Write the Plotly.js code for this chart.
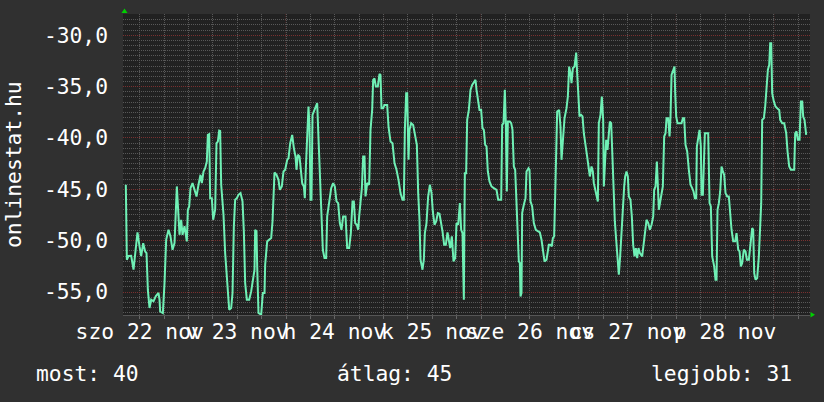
<!DOCTYPE html>
<html><head><meta charset="utf-8">
<script src="https://cdn.plot.ly/plotly-3.0.1.min.js"></script>
<style>html,body{margin:0;padding:0;background:#303030;}#chart{width:824px;height:402px;}</style>
</head><body><div id="chart"></div>
<script>
// time in hours relative to 23 nov 00:00
const hours1 = [-15.42,-15.17,-14.76,-14.10,-13.53,-13.12,-12.55,-12.05,-11.64,-11.15,-10.66,-10.33,-10.00,-9.59,-9.18,-8.61,-8.03,-7.38,-7.13,-6.97,-6.31,-5.90,-5.49,-4.92,-4.43,-3.93,-3.44,-2.87,-2.62,-2.21,-1.80,-1.47,-0.98,-0.41,-0.16,0.17,0.49,0.99,1.48,1.97,2.46,2.95,3.28,3.69,4.10,4.51,4.76,5.09,5.33,5.74,6.07,6.56,6.89,7.22,7.55,7.79,8.04,8.61,9.02,9.52,10.01,10.50,10.83,11.16,11.48,11.89,12.30,12.80,13.29,13.62,13.94,14.35,14.93,15.42,15.83,16.24,16.40,16.73,16.90,17.22,17.88,18.29,18.70,18.86,19.36,19.85,20.34,20.67,20.91,21.16,21.65,22.14,22.47,22.96,23.37,23.78,24.28,24.61,25.02];
const values1 = [-44.56,-51.86,-51.5,-51.47,-52.83,-51.5,-49.2,-50.56,-51.5,-50.24,-51.05,-51.21,-54.8,-56.56,-55.75,-55.91,-55.4,-55.1,-55.75,-56.9,-57.05,-54.13,-49.9,-48.94,-49.59,-50.89,-50.24,-44.72,-46.99,-49.43,-47.97,-49.43,-48.6,-50.07,-46.99,-46.67,-44.89,-44.4,-45.05,-45.7,-44.56,-43.59,-44.4,-43.27,-42.94,-42.29,-39.7,-39.63,-45.86,-45.86,-47.97,-46.99,-40.51,-40.35,-39.28,-39.31,-44.56,-47.48,-51.21,-54.13,-56.72,-56.56,-55.1,-48.6,-46.02,-45.86,-45.54,-45.37,-46.18,-49.1,-54.13,-55.75,-55.75,-54.94,-53.8,-52.83,-48.94,-49.1,-52.51,-57.05,-57.21,-55.1,-55.1,-52.34,-50.07,-49.91,-49.75,-48.13,-45.7,-43.36,-43.59,-44.08,-45.05,-44.72,-43.27,-43.1,-42.13,-41.97,-40.51];

const hours2 = [25.51,25.92,26.33,26.57,26.90,27.31,27.56,27.97,28.38,28.62,28.87,29.20,29.52,29.77,30.02,30.26,30.51,31.00,31.41,31.66,31.98,32.48,32.80,33.05,33.46,33.87,34.12,34.61,35.10,35.59,36.00,36.41,36.82,37.23,37.64,38.05,38.63,39.04,39.53,39.94,40.35,40.68,41.01,41.42,41.74,41.99,42.32,42.65,42.97,43.30,43.55,43.96,44.45,44.78,45.19,45.43,45.76,46.09,46.58,46.99,47.24,47.48,47.89,48.22,48.88,49.21,49.70,50.19,50.68,51.17,51.67,52.16,52.65,52.98,53.23,53.55,53.80,54.13,54.37,54.78,55.27,55.77,56.18,56.51,56.83,57.08,57.57,57.90,58.15,58.55,58.96,59.38,59.79,60.11,60.52,60.93,61.34,61.75,62.16,62.49,62.90,63.31,63.72,64.05,64.38,64.79,65.20,65.61,65.94,66.35,66.76,67.08,67.41];
const values2 = [-39.70,-40.99,-41.81,-43.10,-41.64,-41.81,-43.10,-44.40,-44.72,-45.86,-42.94,-39.37,-36.94,-38.89,-46.02,-46.02,-37.75,-37.27,-36.78,-36.62,-40.02,-44.56,-47.64,-50.89,-51.70,-51.70,-47.64,-46.35,-44.89,-44.40,-44.72,-46.18,-46.35,-48.29,-48.94,-47.64,-47.64,-50.72,-50.72,-49.26,-46.18,-46.18,-48.29,-48.45,-48.94,-47.64,-46.35,-44.89,-41.81,-41.81,-45.70,-44.40,-44.56,-39.21,-37.27,-34.35,-34.19,-34.99,-34.99,-33.77,-33.86,-37.10,-37.10,-36.78,-36.78,-38.89,-40.35,-40.51,-42.45,-43.10,-44.08,-45.37,-46.02,-46.02,-39.21,-35.65,-35.65,-42.13,-39.21,-38.56,-38.73,-39.70,-40.67,-45.37,-47.97,-51.86,-52.83,-51.86,-49.26,-48.29,-45.70,-44.56,-45.37,-47.16,-48.45,-48.13,-47.32,-47.38,-48.29,-49.10,-50.40,-50.40,-49.20,-49.91,-50.72,-49.59,-52.02,-51.70,-48.29,-48.45,-46.35,-48.94,-49.26];

const hours3 = [67.74,67.99,68.31,68.56,68.97,69.38,69.79,70.20,70.61,70.86,71.18,71.59,72.00,72.33,72.66,72.99,73.32,73.64,74.05,74.55,75.12,75.78,76.19,76.60,76.93,77.17,77.50,77.83,78.07,78.32,78.57,79.06,79.39,79.71,80.04,80.37,80.70,81.03,81.27,81.52,81.68,81.93,82.09,82.50,82.91,83.16,83.65,83.90,84.14,84.55,84.96,85.45,85.95,86.44,86.85,87.26,87.59,88.08,88.41,88.65,89.06,89.39,89.64,89.96,90.21,90.46,90.70,91.19,91.52,91.77,92.10,92.51,93.00,93.33,93.65,93.98,94.23,94.56,94.97,95.38,95.62,95.87,96.20,96.61,96.94,97.26,97.67,98.08,98.41,98.74,99.15,99.48,99.72,100.05,100.38,100.71,100.95,101.36,101.69,102.02,102.18,102.51,102.76,103.09,103.33,103.66,103.99,104.32,104.64,104.89,105.22,105.55,105.87,106.20,106.53,106.86,107.19,107.43,107.76,108.09,108.33,108.74,109.07,109.40,109.73,110.06,110.39,110.71,111.04];
const values3 = [-55.75,-43.43,-43.43,-38.24,-37.27,-35.32,-34.83,-34.51,-34.35,-35.32,-36.13,-37.27,-37.27,-39.05,-39.21,-40.67,-40.83,-43.26,-44.24,-44.72,-44.89,-45.05,-46.02,-46.02,-46.02,-38.73,-38.56,-35.32,-38.56,-45.21,-38.40,-38.40,-38.56,-39.21,-42.78,-43.10,-46.51,-49.59,-52.02,-52.18,-55.43,-55.10,-47.32,-46.51,-45.86,-43.26,-42.94,-43.10,-46.18,-46.67,-48.29,-48.94,-49.10,-49.20,-49.91,-50.88,-52.02,-51.86,-51.21,-50.40,-50.40,-50.56,-49.75,-49.59,-45.70,-40.67,-37.43,-37.27,-38.89,-42.13,-40.18,-38.08,-37.10,-35.97,-33.05,-33.70,-34.67,-33.21,-33.05,-31.69,-33.70,-36.29,-37.90,-37.75,-37.90,-39.54,-40.51,-41.81,-42.78,-43.75,-42.78,-43.26,-44.40,-45.05,-45.86,-46.18,-38.56,-37.75,-35.97,-38.24,-44.72,-41.48,-40.18,-41.16,-40.18,-38.40,-38.56,-42.45,-46.02,-48.13,-49.91,-51.70,-53.32,-51.53,-48.78,-46.99,-44.72,-43.75,-43.26,-43.75,-45.70,-46.02,-47.64,-50.40,-51.53,-50.72,-51.70,-50.72,-51.21];

const hours4 = [111.62,111.95,112.28,112.69,113.10,113.51,113.92,114.33,114.57,114.90,115.23,115.47,115.72,116.13,116.46,116.70,117.03,117.36,117.61,118.02,118.35,118.59,118.84,119.25,119.57,119.74,119.99,120.31,120.81,121.30,121.63,121.95,122.28,122.69,123.10,123.51,123.92,124.25,124.58,124.91,125.07,125.40,125.73,126.05,126.22,126.55,126.79,127.04,127.37,127.86,128.19,128.51,128.84,129.33,129.66,129.91,130.15,130.48,130.81,131.14,131.47,131.79,132.12,132.53,132.94,133.27,133.60,134.01,134.50,134.83,135.24,135.57,135.90,136.22,136.63,137.04,137.37,137.86,138.27,138.68,138.93,139.18,139.50,139.91,140.32,140.65,140.90,141.14,141.55,141.88,142.21,142.54,142.87,143.11,143.36,143.60,144.01,144.42,144.83,145.33,145.57,146.06,146.56,147.05,147.38,147.79,148.20,148.69,149.02,149.26,149.59,149.92,150.33,150.66,150.99,151.23,151.56,151.97];
const values4 = [-51.53,-50.24,-49.10,-47.97,-48.29,-48.94,-48.45,-47.64,-45.05,-44.72,-42.29,-44.72,-46.99,-46.02,-45.05,-44.72,-39.86,-39.54,-38.08,-38.08,-39.86,-37.92,-33.86,-33.37,-33.05,-35.64,-37.92,-38.56,-38.56,-38.56,-38.08,-38.08,-40.67,-41.32,-43.10,-44.56,-44.89,-45.21,-45.86,-45.86,-40.83,-40.18,-39.21,-40.83,-45.53,-45.53,-41.48,-39.54,-39.54,-39.54,-46.35,-46.67,-51.53,-52.51,-53.80,-53.80,-46.99,-46.35,-45.21,-42.78,-43.26,-43.59,-45.37,-45.70,-45.70,-47.64,-48.94,-50.07,-50.07,-49.26,-50.88,-51.05,-52.51,-52.18,-50.88,-51.05,-51.86,-51.86,-50.56,-48.78,-48.94,-53.16,-53.80,-53.64,-51.53,-48.94,-46.35,-38.24,-38.08,-36.94,-35.48,-33.37,-32.89,-30.78,-30.78,-35.64,-36.46,-36.94,-37.10,-37.27,-38.24,-38.56,-38.56,-39.54,-41.32,-42.78,-43.10,-43.10,-43.10,-39.54,-39.37,-40.18,-40.18,-36.46,-36.46,-37.92,-38.24,-39.70];

const dayTickHours = [-12, 12, 36, 60, 84, 108, 132];
const dayTickLabels = ["szo 22 nov", "v 23 nov", "h 24 nov", "k 25 nov", "sze 26 nov", "cs 27 nov", "p 28 nov"];
const dayStartHours = [0, 24, 48, 72, 96, 120, 144];
const yTickVals = [-30, -35, -40, -45, -50, -55];
const yTickLabels = ["-30,0", "-35,0", "-40,0", "-45,0", "-50,0", "-55,0"];
const yAxisLabel = "onlinestat.hu";
const summaryTexts = ["most: 40", "átlag: 45", "legjobb: 31"];

const xs = hours1.concat(hours2, hours3, hours4);
const ys = values1.concat(values2, values3, values4);

const FONT = "DejaVu Sans Mono, monospace";
const FS = 21.3;
const L = 123, R = 14, T = 14, B = 87, W = 824, H = 402;
const PW = W - L - R, PH = H - T - B;
const px2paperX = p => (p - L) / PW;
const px2paperY = p => (H - B - p) / PH;

const grayGrid = "#585858";
const redGrid = "#7a3030";
const dayRed = "#6e2c2c";
const dots = "1px,1px";

const trace = {
  x: xs, y: ys, type: "scatter", mode: "lines",
  line: {color: "#6ff0b5", width: 2},
  hoverinfo: "skip"
};

const shapes = dayStartHours.map(h => ({
  type: "line", xref: "x", yref: "paper", x0: h, x1: h, y0: 0, y1: 1,
  layer: "between", line: {color: dayRed, width: 1, dash: dots}
}));
// arrow heads at the axis ends
shapes.push({
  type: "path", xref: "paper", yref: "paper", xsizemode: "pixel", ysizemode: "pixel",
  xanchor: 0, yanchor: 1, path: "M -1.5,1 L 4.5,1 L 1.5,5.5 Z",
  fillcolor: "#00d000", line: {width: 0}, layer: "above"
});
shapes.push({
  type: "path", xref: "paper", yref: "paper", xsizemode: "pixel", ysizemode: "pixel",
  xanchor: 1, yanchor: 0, path: "M 0.5,3 L 0.5,-2.5 L 5,0.25 Z",
  fillcolor: "#00d000", line: {width: 0}, layer: "above"
});

const textFont = {family: FONT, size: FS, color: "#ffffff"};
const annotations = [
  {text: yAxisLabel, xref: "paper", yref: "paper", x: px2paperX(13), y: px2paperY(165),
   xanchor: "center", yanchor: "middle", textangle: -90, showarrow: false, font: textFont},
  {text: summaryTexts[0], xref: "paper", yref: "paper", x: px2paperX(34), y: px2paperY(373),
   xanchor: "left", yanchor: "middle", showarrow: false, font: textFont},
  {text: summaryTexts[1], xref: "paper", yref: "paper", x: px2paperX(335), y: px2paperY(373),
   xanchor: "left", yanchor: "middle", showarrow: false, font: textFont},
  {text: summaryTexts[2], xref: "paper", yref: "paper", x: px2paperX(649), y: px2paperY(373),
   xanchor: "left", yanchor: "middle", showarrow: false, font: textFont}
];

// range chosen so that midnight gridlines sit on pixel centres
const xRange = [-16.115, 152.905];

const layout = {
  width: W, height: H,
  margin: {l: L, r: R, t: T, b: B, pad: 0},
  paper_bgcolor: "#303030", plot_bgcolor: "#212121",
  showlegend: false,
  xaxis: {
    type: "linear", range: xRange, fixedrange: true,
    tickmode: "array", tickvals: dayTickHours, ticktext: dayTickLabels, tickangle: 0,
    showgrid: false, zeroline: false, showline: true, linecolor: "#555555", linewidth: 1,
    ticks: "", tickfont: textFont, ticklabelstandoff: -3,
    minor: {tickmode: "linear", tick0: 0, dtick: 6, showgrid: true, gridcolor: grayGrid,
            griddash: dots, gridwidth: 1, ticks: "outside", ticklen: 3, tickcolor: "#666666"}
  },
  yaxis: {
    range: [-57.24, -27.93], fixedrange: true,
    tickmode: "array", tickvals: yTickVals, ticktext: yTickLabels,
    showgrid: true, gridcolor: redGrid, griddash: dots, gridwidth: 1,
    zeroline: false, showline: false,
    ticks: "", tickfont: textFont, ticklabelstandoff: 14,
    minor: {tickmode: "linear", tick0: 0, dtick: 0.5, showgrid: true, gridcolor: grayGrid,
            griddash: dots, gridwidth: 1}
  },
  shapes: shapes,
  annotations: annotations
};

Plotly.newPlot("chart", [trace], layout, {staticPlot: true, displayModeBar: false});
</script>
</body></html>
